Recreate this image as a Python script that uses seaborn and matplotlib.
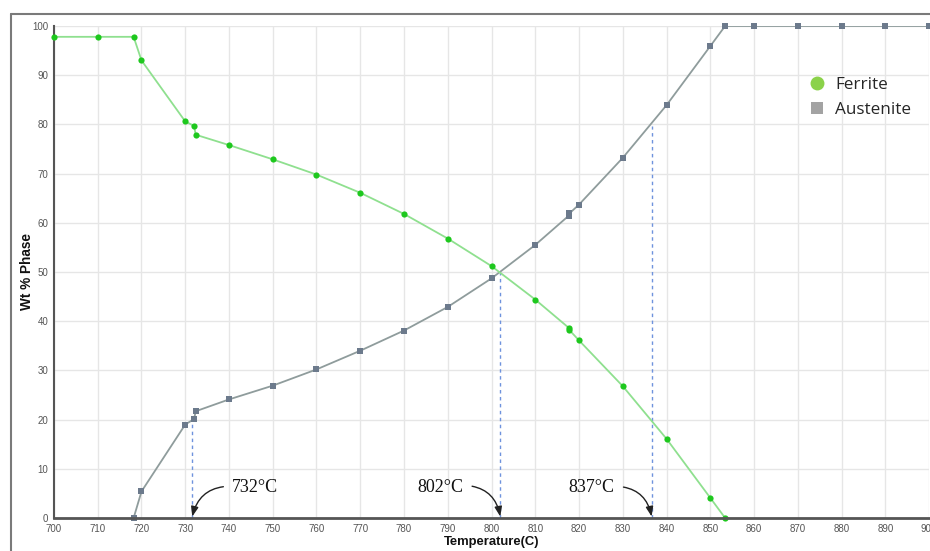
import matplotlib
matplotlib.use("Agg")
import matplotlib.pyplot as plt
from matplotlib.lines import Line2D
import seaborn as sns
import pandas as pd

# ---- data ----
temps_ferrite = [700, 710, 718.2, 720, 730, 732, 732.4, 740, 750, 760, 770, 780, 790,
                 800, 810, 817.6, 817.8, 820, 830, 840, 850, 853.4]
ferrite = [97.8, 97.8, 97.8, 93.0, 80.6, 79.7, 77.9, 75.8, 72.9, 69.8, 66.1, 61.8, 56.8,
           51.2, 44.4, 38.7, 38.2, 36.1, 26.8, 16.1, 4.1, 0.0]

temps_austenite = [718.2, 720, 730, 732, 732.4, 740, 750, 760, 770, 780, 790, 800, 810,
                   817.6, 817.8, 820, 830, 840, 850, 853.4, 860, 870, 880, 890, 900]
austenite = [0.0, 5.4, 19.0, 20.1, 21.7, 24.1, 26.9, 30.2, 34.0, 38.1, 42.9, 48.7, 55.5,
             61.4, 61.9, 63.7, 73.2, 83.9, 95.9, 100, 100, 100, 100, 100, 100]

critical_temps = [731.6, 802.0, 836.6]
critical_tops = [20.0, 50.1, 79.7]
critical_labels = ["732°C", "802°C", "837°C"]
label_pos_x = [746.0, 788.3, 822.9]
label_pos_y = [6.1, 6.3, 6.1]

x_ticks = list(range(700, 901, 10))
y_ticks = list(range(0, 101, 10))

df_f = pd.DataFrame({"T": temps_ferrite, "wt": ferrite})
df_a = pd.DataFrame({"T": temps_austenite, "wt": austenite})

sns.set_style("white")

fig = plt.figure(figsize=(9.30, 5.51), dpi=100)
ax = fig.add_axes([54 / 930, 33 / 551, 875 / 930, 492 / 551])

green_line = "#8fe08f"
green_mark = "#1ec81e"
gray_line = "#8f9c9c"
gray_mark = "#6c7a8c"

sns.lineplot(data=df_a, x="T", y="wt", ax=ax, color=gray_line, lw=1.3,
             estimator=None, sort=False, zorder=3)
sns.scatterplot(data=df_a, x="T", y="wt", ax=ax, color=gray_mark, marker="s",
                s=22, linewidth=0, zorder=4, clip_on=False)
sns.lineplot(data=df_f, x="T", y="wt", ax=ax, color=green_line, lw=1.3,
             estimator=None, sort=False, zorder=3)
sns.scatterplot(data=df_f, x="T", y="wt", ax=ax, color=green_mark, marker="o",
                s=20, linewidth=0, zorder=4, clip_on=False)

ax.vlines(critical_temps, 0, critical_tops, colors="#6f93dd", linestyles=(0, (2.5, 2.5)),
          lw=1.0, zorder=2)

rads = [0.4, -0.4, -0.4]
relx = [0.0, 1.0, 1.0]
for xt, lab, lx, ly, r, rp in zip(critical_temps, critical_labels, label_pos_x,
                                   label_pos_y, rads, relx):
    ax.annotate(lab, xy=(xt, 0.3), xytext=(lx, ly), ha="center", va="center",
                fontsize=13, family="Liberation Serif", color="#111111",
                arrowprops=dict(arrowstyle="-|>,head_length=0.45,head_width=0.17",
                                color="#222222", lw=1.0, relpos=(rp, 0.6),
                                connectionstyle=f"arc3,rad={r}", shrinkA=4, shrinkB=0),
                zorder=6)

ax.set_xlim(700, 900)
ax.set_ylim(0, 100)
ax.set_xticks(x_ticks)
ax.set_yticks(y_ticks)
ax.set_xticks([t + 5 for t in x_ticks[:-1]], minor=True)
ax.set_yticks([t + 5 for t in y_ticks[:-1]], minor=True)
ax.grid(True, which="major", color="#e6e6e6", lw=1.0, zorder=0)
ax.set_axisbelow(True)
ax.tick_params(axis="both", which="major", direction="inout", length=5, width=1,
               color="#444444", labelsize=7, labelcolor="#555555", pad=1.5)
ax.tick_params(axis="both", which="minor", direction="inout", length=4, width=1,
               color="#444444")
for lbl in ax.get_xticklabels() + ax.get_yticklabels():
    lbl.set_family("Liberation Sans")

for s in ["top", "right"]:
    ax.spines[s].set_visible(False)
ax.spines["bottom"].set_color("#555555")
ax.spines["bottom"].set_linewidth(2.0)
ax.spines["left"].set_color("#555555")
ax.spines["left"].set_linewidth(1.5)
ax.spines["bottom"].set_zorder(5)

ax.set_xlabel("Temperature(C)", fontsize=9.4, fontweight="bold", family="Liberation Sans",
              labelpad=2, color="#111111")
ax.set_ylabel("Wt % Phase", fontsize=9.8, fontweight="bold", family="Liberation Sans",
              labelpad=-1, color="#111111")

handles = [
    Line2D([], [], marker="o", ls="none", markersize=10, color="#8bd24a", markeredgewidth=0),
    Line2D([], [], marker="s", ls="none", markersize=8.5, color="#a3a3a3", markeredgewidth=0),
]
leg = ax.legend(handles, ["Ferrite", "Austenite"], loc="upper left",
                bbox_to_anchor=(0.845, 0.927), frameon=False, handlelength=1.0,
                handletextpad=0.55, labelspacing=0.5,
                prop={"family": "Open Sans", "size": 12.3})

# outer panel border
fig.add_artist(Line2D([11 / 930, 11 / 930], [0, 1 - 14 / 551], color="#7a7a7a", lw=1.5,
                      transform=fig.transFigure))
fig.add_artist(Line2D([11 / 930, 1], [1 - 14 / 551, 1 - 14 / 551], color="#7a7a7a", lw=1.5,
                      transform=fig.transFigure))

fig.savefig("out.png", dpi=100)
